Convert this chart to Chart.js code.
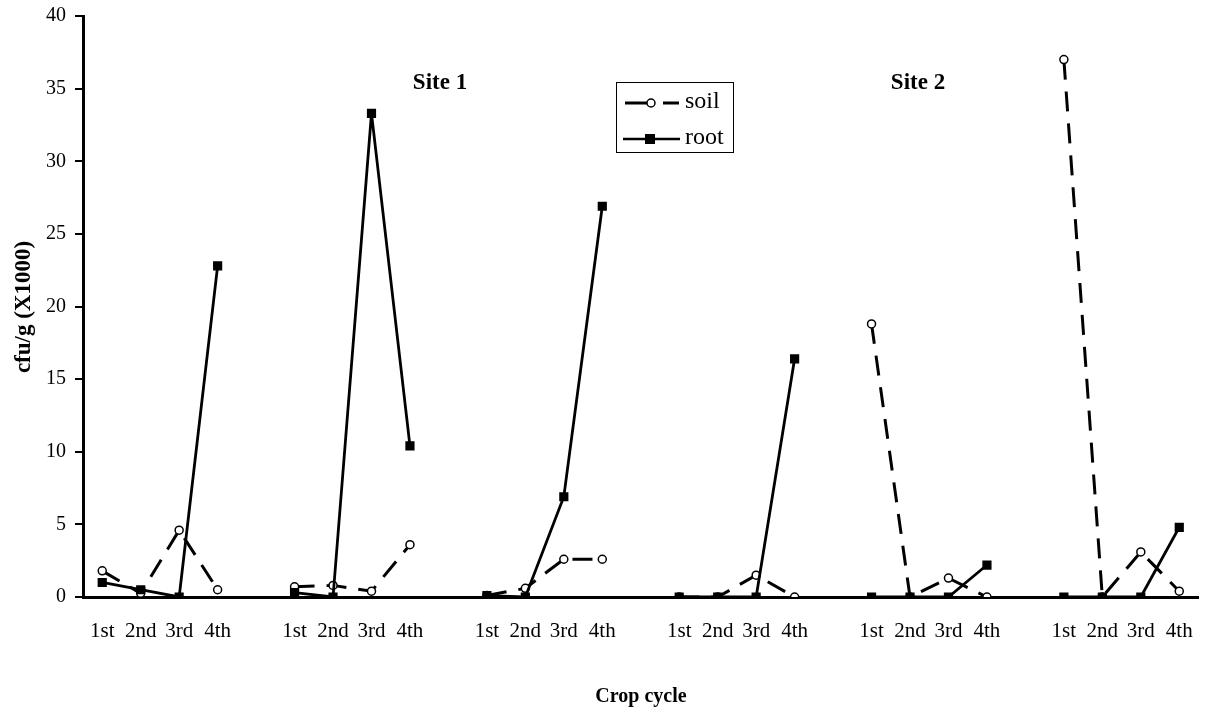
<!DOCTYPE html>
<html>
<head>
<meta charset="utf-8">
<script src="https://cdn.jsdelivr.net/npm/chart.js@4"></script>
<style>
html,body{margin:0;padding:0;background:#fff;}
#wrap{position:relative;width:1205px;height:714px;}
</style>
</head>
<body>
<div id="wrap"><canvas id="c"></canvas></div>
<script>
const cycleLabels = ['1st', '2nd', '3rd', '4th'];
const siteLabels = ['Site 1', 'Site 2'];
const yTicks = [0, 5, 10, 15, 20, 25, 30, 35, 40];

const soilG1 = [1.8, 0.25, 4.6, 0.5];
const soilG2 = [0.7, 0.8, 0.4, 3.6];
const soilG3 = [0.1, 0.6, 2.6, 2.6];
const soilG4 = [0, 0, 1.5, 0];
const soilG5 = [18.8, 0, 1.3, 0];
const soilG6 = [37.0, 0, 3.1, 0.4];

const rootG1 = [1.0, 0.5, 0, 22.8];
const rootG2 = [0.3, 0, 33.3, 10.4];
const rootG3 = [0.1, 0, 6.9, 26.9];
const rootG4 = [0, 0, 0, 16.4];
const rootG5 = [0, 0, 0, 2.2];
const rootG6 = [0, 0, 0, 4.8];

const soilGroups = [soilG1, soilG2, soilG3, soilG4, soilG5, soilG6];
const rootGroups = [rootG1, rootG2, rootG3, rootG4, rootG5, rootG6];

function flatten(groups) {
  const out = [];
  groups.forEach((g, i) => {
    out.push(...g);
    if (i < groups.length - 1) out.push(null);
  });
  return out;
}
const labels = flatten(soilGroups.map(() => cycleLabels)).map(v => v === null ? '' : v);
const soilData = flatten(soilGroups);
const rootData = flatten(rootGroups);

const serif = '"Liberation Serif", "Times New Roman", serif';

const overlay = {
  id: 'overlay',
  afterDraw(chart) {
    const ctx = chart.ctx;
    ctx.save();
    ctx.fillStyle = '#000';
    // site labels
    ctx.font = 'bold 23px ' + serif;
    ctx.textAlign = 'center';
    ctx.textBaseline = 'middle';
    ctx.fillText(siteLabels[0], 440, 83);
    ctx.fillText(siteLabels[1], 918, 83);
    // axis titles
    ctx.font = 'bold 20px ' + serif;
    ctx.fillText('Crop cycle', 641, 697);
    ctx.save();
    ctx.translate(24, 307);
    ctx.rotate(-Math.PI / 2);
    ctx.font = 'bold 23px ' + serif;
    ctx.fillText('cfu/g (X1000)', 0, 0);
    ctx.restore();
    // legend
    ctx.strokeStyle = '#000';
    ctx.lineWidth = 1;
    ctx.strokeRect(616.5, 82.5, 117, 70);
    ctx.lineWidth = 3;
    ctx.beginPath();
    ctx.moveTo(625, 103); ctx.lineTo(648, 103);
    ctx.moveTo(663, 103); ctx.lineTo(679, 103);
    ctx.stroke();
    ctx.beginPath();
    ctx.arc(651, 103, 4, 0, Math.PI * 2);
    ctx.fillStyle = '#fff'; ctx.fill();
    ctx.lineWidth = 1.5; ctx.stroke();
    ctx.lineWidth = 2.5;
    ctx.beginPath();
    ctx.moveTo(623, 139); ctx.lineTo(680, 139);
    ctx.stroke();
    ctx.fillStyle = '#000';
    ctx.fillRect(645, 134, 10, 10);
    ctx.font = '24px ' + serif;
    ctx.textAlign = 'left';
    ctx.fillText('soil', 685, 102);
    ctx.fillText('root', 685, 138);
    ctx.restore();
  }
};

new Chart(document.getElementById('c'), {
  type: 'line',
  data: {
    labels: labels,
    datasets: [
      {
        label: 'soil',
        data: soilData,
        order: 1,
        borderColor: '#000',
        borderWidth: 3,
        borderDash: [20, 12],
        pointStyle: 'circle',
        pointRadius: 4,
        pointBackgroundColor: '#fff',
        pointBorderColor: '#000',
        pointBorderWidth: 1.5,
        spanGaps: false,
        tension: 0
      },
      {
        label: 'root',
        data: rootData,
        order: 0,
        borderColor: '#000',
        borderWidth: 2.8,
        pointStyle: 'rect',
        pointRadius: 6.5,
        pointBackgroundColor: '#000',
        pointBorderColor: '#000',
        pointBorderWidth: 0,
        spanGaps: false,
        tension: 0
      }
    ]
  },
  options: {
    responsive: true,
    maintainAspectRatio: false,
    animation: false,
    layout: { padding: { top: 16, right: 0, left: 0, bottom: 0 } },
    plugins: {
      legend: { display: false },
      tooltip: { enabled: false },
      title: { display: false }
    },
    scales: {
      x: {
        type: 'category',
        offset: true,
        grid: { display: false, drawTicks: false },
        border: { display: true, color: '#000', width: 3 },
        ticks: {
          color: '#000',
          font: { family: serif, size: 21 },
          padding: 22,
          autoSkip: false,
          maxRotation: 0
        },
        afterFit(scale) {
          scale.height = 117;
          scale.paddingLeft = 0;
          scale.paddingRight = 0;
        }
      },
      y: {
        min: 0,
        max: 40,
        afterBuildTicks(scale) { scale.ticks = yTicks.map(v => ({ value: v })); },
        grid: { drawOnChartArea: false, drawTicks: true, tickLength: 8, color: '#000', lineWidth: 2 },
        border: { display: true, color: '#000', width: 3 },
        ticks: {
          color: '#000',
          font: { family: serif, size: 20 },
          padding: 9
        },
        afterFit(scale) {
          scale.width = 83;
          scale.paddingTop = 0;
          scale.paddingBottom = 0;
        }
      }
    }
  },
  plugins: [overlay]
});
</script>
</body>
</html>
